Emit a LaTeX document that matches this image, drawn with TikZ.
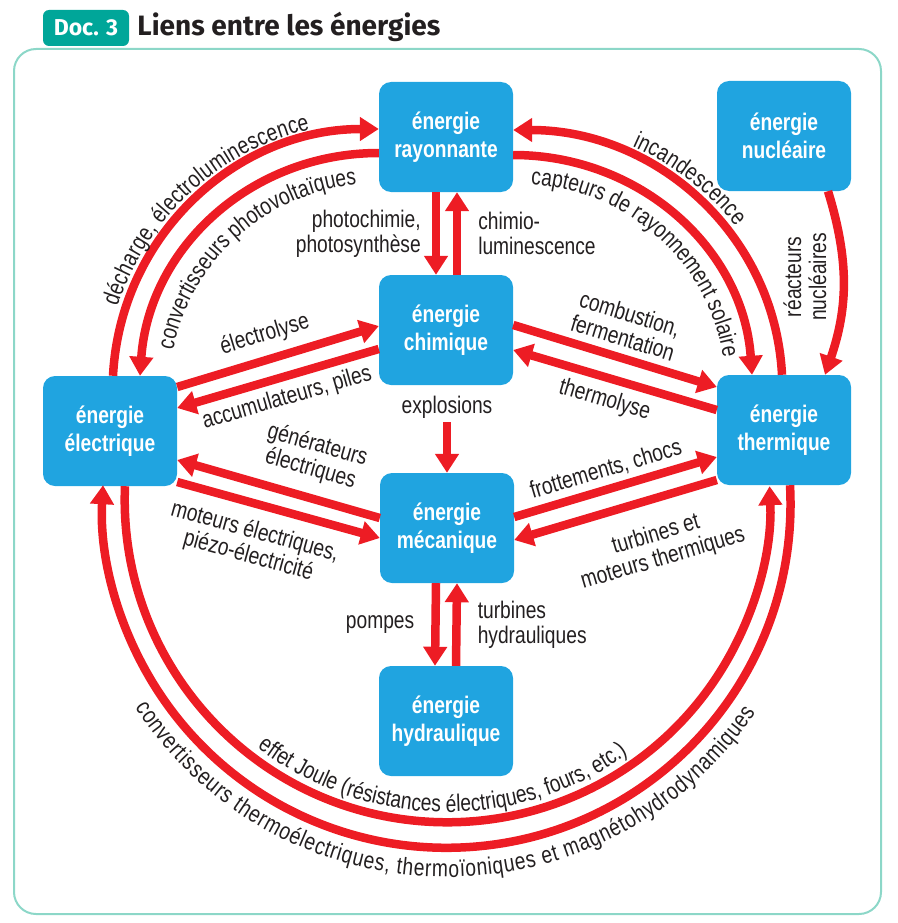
\documentclass[tikz,border=0pt]{standalone}
\usepackage{fontspec}
\setmainfont{Liberation Sans}
\newfontfamily\arrfam{Liberation Sans}[FakeStretch=0.8]
\newfontfamily\titlefam{Fira Sans}
\usetikzlibrary{arrows.meta,positioning,decorations.text}
\definecolor{enblue}{RGB}{32,164,224}
\definecolor{enred}{RGB}{237,28,36}
\definecolor{docteal}{RGB}{0,166,153}
\definecolor{framecol}{RGB}{140,215,200}
\definecolor{ink}{RGB}{35,31,32}
\newcommand\arrfont{\arrfam\fontsize{24}{25}\selectfont}
\newcommand\boxfont{\arrfam\bfseries\fontsize{24}{28}\selectfont}
\tikzset{
  enbox/.style={fill=enblue, rounded corners=12pt, minimum width=134pt, minimum height=110pt,
    text=white, font=\boxfont, align=center, inner sep=0pt},
  arr/.style={draw=enred, line width=8.5pt, -{Triangle[length=19pt,width=23pt]}},
  lbl/.style={font=\arrfont, text=ink, inner sep=0pt},
  curvetext/.style={decorate, decoration={text along path, text={|\arrfont|#1},
    text color=ink, text align=center}}
}
\begin{document}
\begin{tikzpicture}[x=1pt,y=1pt]
\useasboundingbox (0,0) rectangle (897,-923);
% cadre et titre
\draw[framecol, line width=2pt, rounded corners=22pt] (14,-49) rectangle (881,-914);
\node[fill=docteal, rounded corners=6pt, text=white, font=\titlefam\bfseries\fontsize{23}{23}\selectfont,
  minimum width=86pt, minimum height=36pt, inner sep=0pt] (doc) at (86,-28) {Doc. 3};
\node[base right=8pt of doc, font=\titlefam\bfseries\fontsize{28}{28}\selectfont, text=ink, inner sep=0pt]
  (title) {Liens entre les énergies};

% les energies
\node[enbox] (ray) at (446,-137) {énergie\\rayonnante};
\node[enbox] (nuc) at (784,-136) {énergie\\nucléaire};
\node[enbox] (chim) at (446,-330) {énergie\\chimique};
\node[enbox] (elec) at (110,-431) {énergie\\électrique};
\node[enbox] (therm) at (784,-430) {énergie\\thermique};
\node[enbox] (meca) at (447,-528) {énergie\\mécanique};
\node[enbox] (hydr) at (446,-721) {énergie\\hydraulique};

% fleches droites
\draw[arr] ([xshift=-10]ray.south) -- node[lbl, left=11pt, align=right] (lPhoto) {photochimie,\\photosynthèse} ([xshift=-10]chim.north);
\draw[arr] ([xshift=11]chim.north) -- node[lbl, right=17pt, align=left] (lChimio) {chimio-\\luminescence} ([xshift=11]ray.south);
\draw[arr] ([yshift=44]elec.east) -- node[lbl, sloped, pos=0.47, above=9pt] (lElectro) {électrolyse} ([yshift=4]chim.west);
\draw[arr] ([yshift=-19]chim.west) -- node[lbl, sloped, pos=0.485, below=6pt] (lAccu) {accumulateurs, piles} ([yshift=23]elec.east);
\draw[arr] ([yshift=5]chim.east) -- node[lbl, sloped, pos=0.51, above=7pt, align=center] (lCombu) {combustion,\\fermentation} ([yshift=43]therm.west);
\draw[arr] ([yshift=20]therm.west) -- node[lbl, sloped, pos=0.52, below=7pt] (lThermo) {thermolyse} ([yshift=-20]chim.east);
\node[lbl] (lExplo) at (447,-407) {explosions};
\draw[arr] ([yshift=-4]lExplo.south) -- (meca.north);
\draw[arr] ([yshift=10]meca.west) -- node[lbl, sloped, pos=0.38, above=12pt, align=center] (lGener) {générateurs\\électriques} ([yshift=-29]elec.east);
\draw[arr] ([yshift=-51]elec.east) -- node[lbl, sloped, pos=0.42, below=12pt, align=center] (lMoteurs) {moteurs électriques,\\piézo-électricité} ([yshift=-10]meca.west);
\draw[arr] ([yshift=11]meca.east) -- node[lbl, sloped, pos=0.48, above=5pt] (lFrott) {frottements, chocs} ([yshift=-27]therm.west);
\draw[arr] ([yshift=-50]therm.west) -- node[lbl, sloped, pos=0.35, below=20pt, align=center] (lTurbTh) {turbines et\\moteurs thermiques} ([yshift=-12]meca.east);
\draw[arr] ([xshift=-11]meca.south) -- node[lbl, left=17pt] (lPompes) {pompes} ([xshift=-11]hydr.north);
\draw[arr] ([xshift=10]hydr.north) -- node[lbl, right=17pt, align=left] (lTurbHy) {turbines\\hydrauliques} ([xshift=10]meca.south);

% nucleaire
\draw[arr] ([xshift=44]nuc.south) to[bend left=18] ([xshift=41]therm.north);
\node[lbl, rotate=90, align=center] (lReact) at (805,-277) {réacteurs\\nucléaires};

% arcs du haut
\draw[arr] ([xshift=3]elec.north) to[out=87,in=180] ([yshift=8]ray.west);
\draw[arr] ([yshift=-16]ray.west) to[out=180,in=86] ([xshift=30]elec.north);
\draw[arr] ([xshift=-2]therm.north) to[out=93,in=0] ([yshift=7]ray.east);
\draw[arr] ([yshift=-18]ray.east) to[out=0,in=94] ([xshift=-32]therm.north);
\coordinate (lc) at (376,-391);
\coordinate (rc) at (519,-391);
\path[curvetext={décharge, électroluminescence}, decoration={raise=8pt}]
  ([xshift=3]elec.north) to[out=87,in=180] ([yshift=8]ray.west);
\path[curvetext={convertisseurs photovoltaïques}]
  ([shift={(175:207)}]lc) arc[start angle=175, end angle=89, radius=207];
\path[curvetext={incandescence}, decoration={raise=9pt, text align={center, right indent=36pt}}]
  ([yshift=7]ray.east) to[out=0,in=93] ([xshift=-2]therm.north);
\path[curvetext={capteurs de rayonnement solaire}]
  ([shift={(93:207)}]rc) arc[start angle=93, end angle=3, radius=207];

% arcs du bas
\draw[arr] ([xshift=15]elec.south) arc[start angle=177.6, end angle=362.4, radius=322.6];
\draw[arr] ([xshift=6]therm.south) arc[start angle=3.1, end angle=-183.1, radius=344];
\coordinate (jc) at (447,-500);
\coordinate (tc) at (447,-505);
\path[curvetext={effet Joule (résistances électriques, fours, etc.)}]
  ([shift={(200:312)}]jc) arc[start angle=200, end angle=338, radius=312];
\path[curvetext={convertisseurs thermoélectriques, thermoïoniques et magnétohydrodynamiques},
  decoration={text align=fit to path}]
  ([shift={(213:372)}]tc) arc[start angle=213, end angle=326, radius=372];
\end{tikzpicture}
\end{document}
